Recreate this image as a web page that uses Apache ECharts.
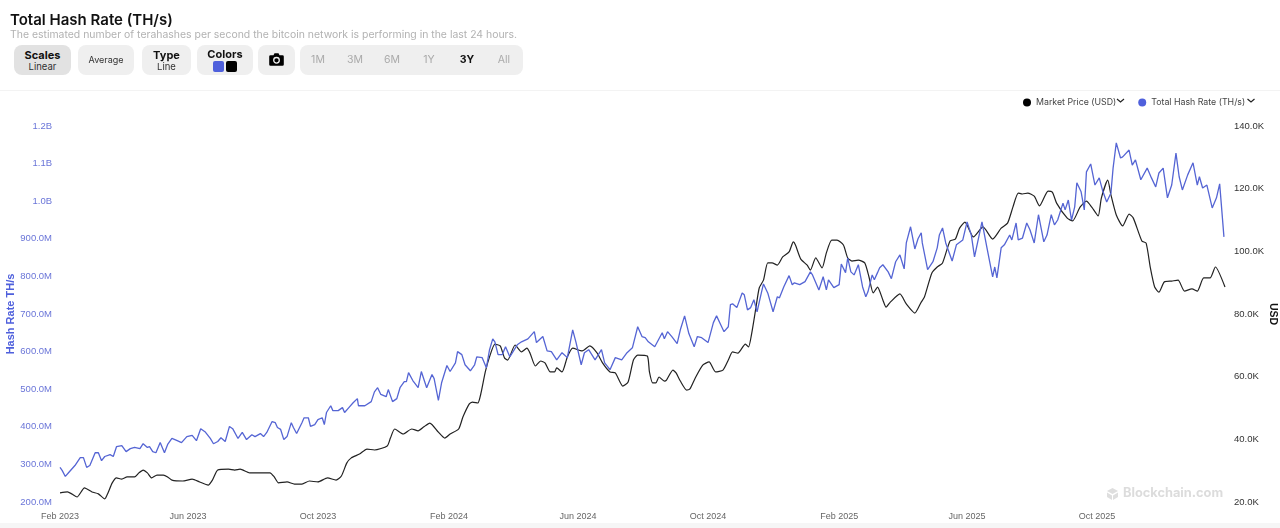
<!DOCTYPE html>
<html>
<head>
<meta charset="utf-8">
<title>Total Hash Rate (TH/s)</title>
<script src="https://cdn.jsdelivr.net/npm/echarts@6/dist/echarts.min.js"></script>
<style>
html,body{margin:0;padding:0;background:#fff;font-family:Inter,"Noto Sans",sans-serif;}
#main{position:absolute;left:0;top:0;width:1280px;height:528px;}
.head{position:absolute;left:10px;white-space:nowrap;}
#ttl{top:10px;font-size:15px;font-weight:600;color:#111;line-height:20px;}
#sub{top:28px;font-size:10.45px;color:#b2b2b2;line-height:14px;}
.btn{position:absolute;top:45px;height:30px;background:#efefef;border-radius:8px;text-align:center;color:#333;font-size:9.5px;box-sizing:border-box;padding-top:4px;line-height:11px;}
.btn b{display:block;font-size:11px;color:#111;line-height:12px;}
.sw{display:inline-block;width:11px;height:11px;border-radius:2px;margin:1px 1px 0;}
.rng{position:absolute;top:54px;font-size:10.5px;line-height:12px;color:#aaa;width:30px;text-align:center;}
#rule{position:absolute;left:0;top:90px;width:1280px;height:1px;background:#f3f3f3;}
#foot{position:absolute;left:0;top:523px;width:1280px;height:5px;background:#f6f6f6;}
</style>
</head>
<body>
<div id="main"></div>
<div class="head" id="ttl">Total Hash Rate (TH/s)</div>
<div class="head" id="sub">The estimated number of terahashes per second the bitcoin network is performing in the last 24 hours.</div>
<div class="btn" style="left:14px;width:57px;background:#e2e2e2"><b>Scales</b>Linear</div>
<div class="btn" style="left:78px;width:56px;padding-top:9px;font-size:9px">Average</div>
<div class="btn" style="left:142px;width:49px"><b>Type</b>Line</div>
<div class="btn" style="left:197px;width:56px;padding-top:3px"><b>Colors</b><span class="sw" style="background:#4f60dc"></span><span class="sw" style="background:#000"></span></div>
<div class="btn" style="left:258px;width:37px;padding-top:8px">
  <svg width="15" height="13" viewBox="0 0 15 13"><path fill="#000" d="M1.5 2.2h3l1-2h4l1 2h3a1.3 1.3 0 0 1 1.3 1.3v8a1.3 1.3 0 0 1-1.3 1.3h-12A1.3 1.3 0 0 1 .2 11.500v-8a1.300 1.300 0 0 1 1.300-1.300z"/><circle cx="7.500" cy="7.300" r="2.800" fill="none" stroke="#efefef" stroke-width="1.300"/></svg>
</div>
<div class="btn" style="left:300px;width:223px"></div>
<div class="rng" style="left:303px">1M</div>
<div class="rng" style="left:340px">3M</div>
<div class="rng" style="left:377px">6M</div>
<div class="rng" style="left:414px">1Y</div>
<div class="rng" style="left:452px;color:#111;font-weight:700">3Y</div>
<div class="rng" style="left:489px">All</div>
<div id="rule"></div>
<div id="foot"></div>
<script>
// x axis runs in days since 1 Feb 2023
var endDay = 1093;

var hashDays = [0,2,5,9,14,19,22,25,28,33,36,39,42,47,50,53,58,62,66,70,75,78,82,84,87,90,94,98,101,105,110,114,119,124,128,132,136,141,144,148,151,155,159,162,167,171,175,180,183,188,191,194,199,202,204,207,210,213,217,219,222,227,229,233,235,239,242,246,248,250,254,256,261,265,267,271,275,279,280,286,292,295,298,301,306,308,312,316,319,323,325,327,331,336,339,340,344,349,351,355,358,363,366,371,373,377,380,385,389,391,396,400,403,406,408,411,415,418,422,429,433,439,445,447,453,457,461,466,471,476,481,484,489,492,496,502,508,511,516,521,527,532,537,542,546,549,552,558,565,567,570,574,579,582,586,590,595,598,602,608,613,616,620,623,627,629,631,635,640,642,645,648,651,654,658,660,664,669,673,675,679,684,687,689,694,699,704,706,712,716,719,721,726,731,733,737,739,742,745,749,753,756,758,762,764,767,769,772,777,780,784,788,792,794,798,802,805,808,809,814,819,823,825,828,831,837,841,847,851,855,858,861,865,870,875,877,879,883,886,891,893,897,899,903,907,910,914,918,923,926,930,933,936,941,943,946,949,952,954,958,961,963,967,971,975,978,982,986,988,991,995,997,1003,1006,1009,1014,1020,1024,1028,1031,1035,1039,1043,1047,1050,1053,1058,1063,1067,1069,1072,1076,1081,1085,1088,1092];
// TH/s, in millions
var hashValues = [292,284,268,281,297,318,318,292,297,331,331,310,321,326,321,347,350,334,342,345,342,355,345,347,334,331,358,331,353,369,363,358,374,377,363,395,387,369,355,361,371,361,401,395,369,385,366,379,374,382,374,385,414,411,398,393,366,374,411,398,382,411,424,424,401,406,419,424,406,438,456,443,443,451,438,451,464,475,456,456,467,493,504,486,480,499,467,475,504,520,520,544,523,504,547,544,504,539,528,470,517,563,547,570,600,592,565,549,565,586,584,557,605,634,626,592,592,613,586,618,626,634,653,624,640,602,600,578,597,584,658,626,565,597,605,578,605,570,552,584,578,597,610,666,640,637,626,613,650,634,653,640,621,658,695,648,613,640,637,624,677,695,671,653,666,725,727,717,756,751,711,717,738,706,756,780,756,706,746,743,772,802,778,783,778,786,812,804,764,799,764,791,770,778,833,810,849,812,804,831,772,746,759,804,791,810,823,831,812,794,839,857,820,889,932,873,900,916,889,818,839,876,910,929,889,841,884,897,945,910,852,892,945,871,799,825,796,876,884,910,897,942,897,902,942,924,889,964,892,910,964,937,950,995,977,1003,950,985,1049,1025,977,1078,1099,1043,1062,1030,998,1022,1088,1155,1115,1118,1136,1096,1110,1057,1088,1062,1038,1075,1088,1009,1043,1128,1065,1030,1070,1102,1043,1065,1035,1043,982,1009,1046,905];

var priceDays = [0,7,11,16,23,30,36,42,45,49,53,58,63,70,74,78,82,86,91,97,101,105,115,124,131,139,143,148,158,164,169,178,188,197,201,205,213,220,227,234,242,251,259,264,269,273,281,288,295,307,310,314,322,330,336,341,347,355,361,366,374,378,384,387,392,395,399,403,408,413,417,420,427,433,438,441,446,451,455,460,464,466,471,476,481,490,497,504,509,516,521,528,533,538,542,551,553,556,559,562,567,569,575,578,582,588,591,596,603,609,615,622,627,631,636,643,646,649,653,656,660,664,668,673,678,684,688,690,695,701,704,709,715,719,724,729,735,739,743,749,755,759,763,767,772,775,779,788,794,802,808,811,818,823,828,835,840,844,849,857,866,875,883,889,894,899,903,908,914,919,927,931,935,945,950,957,963,968,974,977,983,986,991,997,1003,1007,1015,1019,1023,1027,1031,1036,1043,1049,1055,1062,1067,1073,1079,1084,1093];
// USD, in thousands
var priceValues = [22.9,23.2,22.6,21.6,24.5,23.2,22.6,21.0,22.9,26.1,27.7,27.3,28.0,28.0,29.3,30.2,29.3,27.7,28.6,28.6,28.0,27.0,26.7,27.3,26.4,25.4,27.0,30.2,30.5,30.2,30.5,29.3,29.3,29.3,28.0,26.1,26.4,25.7,25.7,26.7,26.4,27.7,27.0,28.3,32.4,34.0,35.3,36.9,36.6,37.9,40.4,43.3,41.7,43.3,42.7,43.9,45.2,42.3,40.4,41.7,43.3,47.1,51.3,51.9,51.6,54.8,61.5,66.3,70.4,69.8,66.0,65.3,70.1,67.9,69.1,67.5,63.4,65.0,64.4,61.5,61.5,62.8,61.5,66.3,69.1,68.2,69.8,67.5,64.4,61.5,61.2,57.0,58.3,65.3,66.9,66.6,61.5,58.0,58.0,59.9,58.6,58.9,62.1,61.2,58.6,55.7,56.1,59.6,63.7,64.7,61.5,62.1,65.3,67.9,67.5,70.4,69.5,73.9,82.2,88.3,90.8,96.3,96.3,95.6,98.2,99.8,103.0,102.0,97.5,95.6,94.0,97.9,94.7,99.5,103.6,103.6,102.0,97.9,96.9,97.2,96.3,91.8,86.7,88.6,84.5,82.2,83.8,86.4,83.2,80.3,83.8,85.4,93.1,95.0,96.3,103.3,103.9,107.4,109.3,104.6,107.8,103.9,107.4,109.0,114.1,118.6,118.3,118.6,117.6,114.5,119.2,118.9,115.4,110.6,109.7,114.1,116.0,114.1,111.3,117.0,122.7,118.0,111.6,108.1,111.9,110.6,103.3,102.6,94.7,88.6,87.0,90.2,90.5,90.8,87.3,88.0,87.3,91.5,91.5,95.0,88.6];

var xTickDays = [0,120,242,365,486,608,731,851,973];
var xTickLabels = ['Feb 2023','Jun 2023','Oct 2023','Feb 2024','Jun 2024','Oct 2024','Feb 2025','Jun 2025','Oct 2025'];

function toPairs(days, values){
	var out = [];
	for(var i=0,l=days.length; i<l; i++){
		out.push([days[i], values[i]]);
	}
	return out;
}

var myChart = echarts.init(document.getElementById('main'));
var sansFont = '"Liberation Sans",Arial,sans-serif';

var option = {
	animation: false,
	legend: {
		left: 1018,
		top: 93,
		itemWidth: 8,
		itemHeight: 8,
		itemGap: 22,
		icon: 'circle',
		textStyle: {color: '#444', fontSize: 8.8, fontFamily: 'Inter'},
		data: ['Market Price (USD)', 'Total Hash Rate (TH/s)']
	},
	grid: {left: 60, right: 55, top: 126, bottom: 26, outerBoundsMode: 'none'},
	xAxis: {
		type: 'value',
		min: 0,
		max: endDay,
		axisLine: {show: false},
		axisTick: {show: false},
		splitLine: {show: false},
		axisLabel: {
			customValues: xTickDays,
			color: '#666',
			fontSize: 9,
			fontFamily: sansFont,
			margin: 10,
			hideOverlap: false,
			formatter: function(v){
				return xTickLabels[xTickDays.indexOf(v)];
			}
		}
	},
	yAxis: [
		{
			type: 'value',
			min: 200,
			max: 1200,
			interval: 100,
			name: 'Hash Rate TH/s',
			nameLocation: 'middle',
			nameGap: 44,
			nameMoveOverlap: false,
			nameTextStyle: {color: '#4f60dc', fontSize: 11, fontWeight: 'bold', fontFamily: sansFont},
			axisLine: {show: false},
			axisTick: {show: false},
			splitLine: {show: false},
			axisLabel: {
				color: '#6a75d8',
				fontSize: 9.5,
				fontFamily: sansFont,
				margin: 8,
				formatter: function(v){
					return v >= 1000 ? (v/1000).toFixed(1) + 'B' : v.toFixed(1) + 'M';
				}
			}
		},
		{
			type: 'value',
			min: 20,
			max: 140,
			interval: 20,
			position: 'right',
			name: 'USD',
			nameLocation: 'middle',
			nameGap: 42,
			nameRotate: -90,
			nameMoveOverlap: false,
			nameTextStyle: {color: '#111', fontSize: 10.5, fontWeight: 'bold', fontFamily: sansFont},
			axisLine: {show: false},
			axisTick: {show: false},
			splitLine: {show: false},
			axisLabel: {
				color: '#333',
				fontSize: 9.5,
				fontFamily: sansFont,
				margin: 9,
				formatter: function(v){ return v.toFixed(1) + 'K'; }
			}
		}
	],
	series: [
		{
			name: 'Market Price (USD)',
			type: 'line',
			yAxisIndex: 1,
			showSymbol: false,
			smooth: 0.2,
			itemStyle: {color: '#000'},
			lineStyle: {color: '#222', width: 1.2},
			data: toPairs(priceDays, priceValues)
		},
		{
			name: 'Total Hash Rate (TH/s)',
			type: 'line',
			showSymbol: false,
			itemStyle: {color: '#4f60dc'},
			lineStyle: {color: '#5565d4', width: 1.3},
			data: toPairs(hashDays, hashValues)
		}
	],
	graphic: [
		// legend chevrons
		{type: 'polyline', shape: {points: [[1117,99],[1120.500,102],[1124,99]]}, style: {stroke: '#222', lineWidth: 1.2, fill: null}},
		{type: 'polyline', shape: {points: [[1247.500,99],[1251,102],[1254.500,99]]}, style: {stroke: '#222', lineWidth: 1.2, fill: null}},
		// watermark
		{type: 'polygon', shape: {points: [[1112.500,488],[1118,491],[1112.500,494],[1107,491]]}, style: {fill: '#dedede'}},
		{type: 'polygon', shape: {points: [[1107,492.500],[1112,495.500],[1112,500],[1107,497]]}, style: {fill: '#dedede'}},
		{type: 'polygon', shape: {points: [[1118,492.500],[1113,495.500],[1113,500],[1118,497]]}, style: {fill: '#dedede'}},
		{type: 'text', left: 1123, top: 487, style: {text: 'Blockchain.com', fill: '#dcdcdc', font: 'bold 12.800px Inter'}}
	]
};
myChart.setOption(option);
</script>
</body>
</html>
